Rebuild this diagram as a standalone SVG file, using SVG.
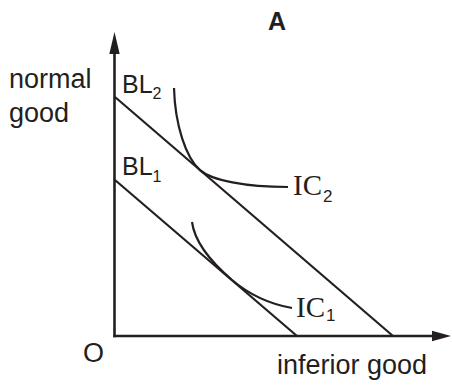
<svg xmlns="http://www.w3.org/2000/svg" width="452" height="385" viewBox="0 0 452 385">
<style>
.t{font-family:"Liberation Sans",Arial,sans-serif;fill:#231f20}
.s{font-family:"Liberation Serif","Times New Roman",serif;fill:#231f20}
.ax{stroke:#231f20;stroke-width:2.6;fill:none}
.ln{stroke:#231f20;stroke-width:2.2;fill:none}
.ah{fill:#231f20}
</style>
<rect width="452" height="385" fill="#fff"/>
<g id="axes">
<line class="ax" x1="114.5" y1="337.3" x2="114.5" y2="50"/>
<polygon class="ah" points="114.5,32 109.3,54 119.7,54"/>
<line class="ax" x1="113.2" y1="336" x2="436" y2="336"/>
<polygon class="ah" points="451,336 432,330.8 432,341.2"/>
<text class="t" x="83" y="362" font-size="27">O</text>
<text class="t" x="277" y="374" font-size="27">inferior good</text>
<text class="t" x="9" y="88" font-size="27">normal</text>
<text class="t" x="9" y="122" font-size="27">good</text>
</g>
<text class="t" x="268" y="30" font-size="25" font-weight="bold">A</text>
<g id="connectors">
<line id="BL2" class="ln" x1="115" y1="97" x2="393" y2="336"/>
<line id="BL1" class="ln" x1="115" y1="180" x2="297" y2="336"/>
<path id="IC2" class="ln" d="M174,88 C175,125 186,158 200,170.1 C212,180.4 245,187 288,187"/>
<path id="IC1" class="ln" d="M192,222 C195,245 214,264.6 232,280 C252,297 275,305 292,308"/>
</g>
<g id="label-BL2"><text class="t" x="122" y="92.5" font-size="25">BL<tspan font-size="16" dy="6.5">2</tspan></text></g>
<g id="label-BL1"><text class="t" x="122" y="175" font-size="25">BL<tspan font-size="16" dy="7">1</tspan></text></g>
<g id="label-IC2"><text class="s" x="293" y="195" font-size="29">IC</text><text class="t" x="323" y="202" font-size="17">2</text></g>
<g id="label-IC1"><text class="s" x="296" y="317" font-size="29">IC</text><text class="t" x="326" y="321" font-size="17">1</text></g>
</svg>
